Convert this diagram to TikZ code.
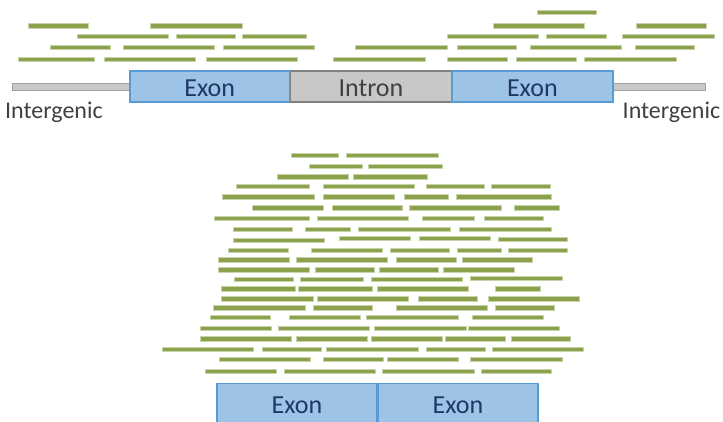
\documentclass[tikz,border=0pt]{standalone}
\usepackage{fontspec}
\setmainfont{Carlito}
\definecolor{readgreen}{RGB}{139,161,76}
\definecolor{readedge}{RGB}{200,213,170}
\definecolor{exonfill}{RGB}{157,195,230}
\definecolor{exonedge}{RGB}{91,155,213}
\definecolor{intronfill}{RGB}{200,200,200}
\definecolor{intronedge}{RGB}{128,128,128}
\definecolor{lineedge}{RGB}{160,160,160}
\definecolor{exontext}{RGB}{31,56,100}
\definecolor{greytext}{RGB}{64,64,64}
\begin{document}
\begin{tikzpicture}[x=1pt,y=-1pt,
  read/.style={fill=readgreen, draw=readedge, line width=0.6pt},
  exonbox/.style={draw=exonedge, fill=exonfill, line width=1.6pt, inner sep=0pt, outer sep=0pt},
  intronbox/.style={draw=intronedge, fill=intronfill, line width=1.6pt, inner sep=0pt, outer sep=0pt},
  geneline/.style={draw=lineedge, fill=intronfill, line width=1.2pt, inner sep=0pt, outer sep=0pt, minimum height=7.4pt},
  exonlabel/.style={text=exontext, font=\fontsize{26}{30}\selectfont, inner sep=0pt, anchor=base},
  intronlabel/.style={text=greytext, font=\fontsize{26}{30}\selectfont, inner sep=0pt, anchor=base},
  iglabel/.style={text=greytext, font=\fontsize{24}{28}\selectfont, inner sep=0pt, anchor=base west}]
\useasboundingbox (0,0) rectangle (723,421);
% top gene model
\node[geneline, minimum width=117.7pt] (igl) at (71.15,87) {};
\node[geneline, minimum width=92.6pt] (igr) at (659,87) {};
\node[exonbox, minimum width=159.5pt, minimum height=30.7pt] (ex1) at (209.75,86.35) {};
\node[intronbox, minimum width=161pt, minimum height=30.7pt] (in1) at (371,86.35) {};
\node[exonbox, minimum width=160.7pt, minimum height=30.7pt] (ex2) at (532.35,86.35) {};
\node[exonlabel] (ex1t) at (209.75,96.7) {Exon};
\node[intronlabel] (in1t) at (371,96.7) {Intron};
\node[exonlabel] (ex2t) at (532.35,96.7) {Exon};
\node[iglabel] (iglt) at (5,118.3) {Intergenic};
\node[iglabel] (igrt) at (622.5,118.3) {Intergenic};
% top reads
\foreach \a/\b/\c in {28/88/25.7,150/242/25.7,537/596/12.5,493/584/25.7,636/706/25.7,
  77/168/36.3,176/235/36.3,242/306/36.3,447/538/36.3,546/606/36.3,622/714/36.3,
  50/110/47.3,123/214/47.3,223/314/47.3,355/447/47.3,457/516/47.3,530/621/47.3,635/694/47.3,
  18/94/59,104/195/59,206/297/59,333/425/59,447/507/59,516/576/59,584/676/59}
  \filldraw[read] (\a,\c-2.2) rectangle (\b,\c+2.2);
% bottom reads
\foreach \a/\b/\c in {291/338/155.3,346/438/155.3,
  309/362/166,368/442/166,
  277/348/176.7,353/427/176.7,
  236/309/186.5,323/414/186.5,426/484/186.5,491/550/186.5,
  222/314/196.7,323/394/196.7,404/448/196.7,456/551/196.7,
  252/323/207.7,332/402/207.7,409/501/207.7,514/559/207.7,
  214/309/218,317/408/218,422/474/218,484/543/218,
  233/292/229,305/350/229,358/450/229,459/551/229,
  233/324/240,339/410/238.3,419/490/238.3,498/567/239,
  228/288/250.3,311/382/250.3,390/449/250.3,457/501/250.3,508/567/250.3,
  218/289/259.7,296/387/259.7,396/456/259.7,462/532/259.7,
  218/309/269.7,315/374/269.7,379/438/269.7,443/514/269.7,
  234/293/279,300/363/279,371/462/279,470/562/278.3,
  221/295/288.7,298/372/288.7,377/468/288.7,495/540/288.7,
  221/313/298.7,317/408/298.7,418/477/298.7,488/579/298.7,
  213/305/307.7,313/372/307.7,396/487/307.7,495/554/307.7,
  210/270/317.3,289/360/317.3,366/458/317.3,472/543/317.3,
  200/271/328,278/369/328,374/466/328,468/559/328,
  200/291/338.7,296/367/338.7,371/442/338.7,445/505/338.7,511/570/338.7,
  162/253/349.3,262/321/349.3,326/418/349.3,426/485/349.3,492/583/349.3,
  219/310/359.3,323/383/359.3,387/458/359.3,470/562/359.3,
  205/276/371,284/375/371,382/474/371,481/551/371}
  \filldraw[read] (\a,\c-2.2) rectangle (\b,\c+2.2);
% bottom exons
\node[exonbox, minimum width=160pt, minimum height=39.7pt] (bx1) at (297,403.15) {};
\node[exonbox, minimum width=160pt, minimum height=39.7pt] (bx2) at (458,403.15) {};
\node[exonlabel] (bx1t) at (297,413.3) {Exon};
\node[exonlabel] (bx2t) at (458,413.3) {Exon};
\end{tikzpicture}
\end{document}
